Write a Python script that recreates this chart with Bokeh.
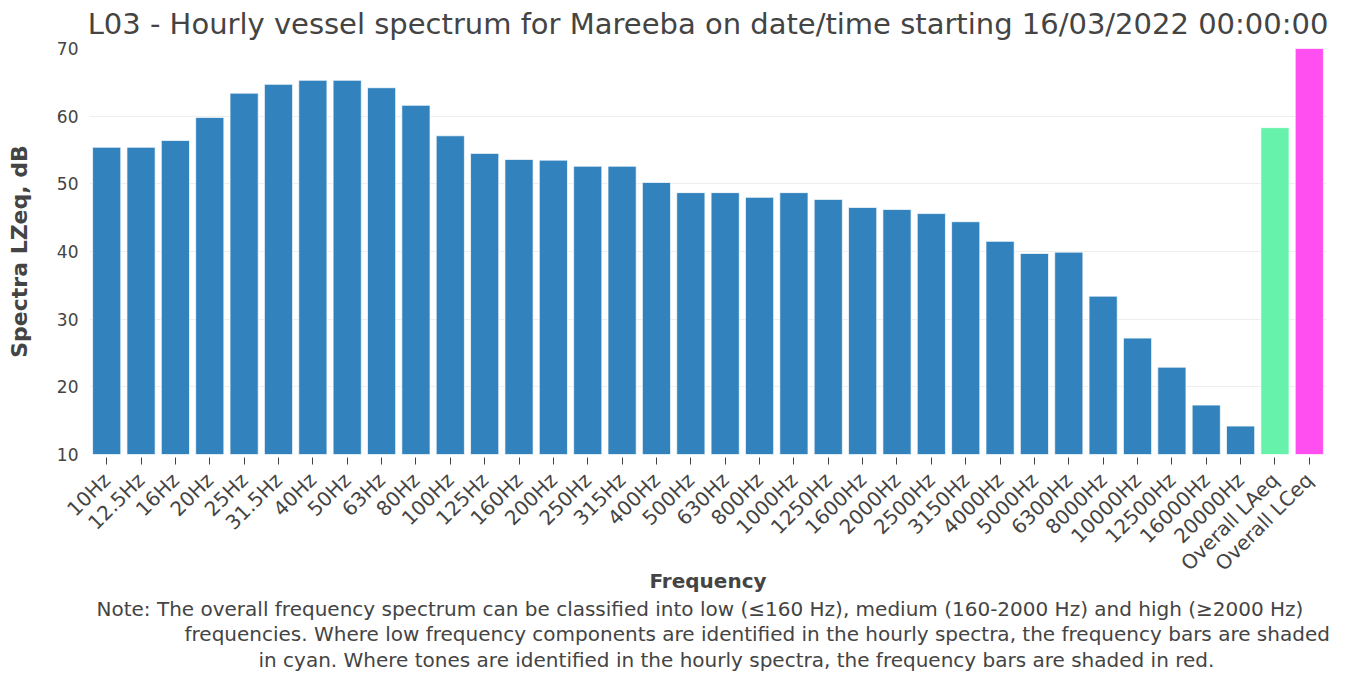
from bokeh.plotting import figure
from bokeh.models import Title, FixedTicker, ColumnDataSource
from bokeh.embed import file_html
from bokeh.resources import INLINE
import math

categories = ["10Hz", "12.5Hz", "16Hz", "20Hz", "25Hz", "31.5Hz", "40Hz", "50Hz", "63Hz", "80Hz",
              "100Hz", "125Hz", "160Hz", "200Hz", "250Hz", "315Hz", "400Hz", "500Hz", "630Hz", "800Hz",
              "1000Hz", "1250Hz", "1600Hz", "2000Hz", "2500Hz", "3150Hz", "4000Hz", "5000Hz", "6300Hz",
              "8000Hz", "10000Hz", "12500Hz", "16000Hz", "20000Hz", "Overall LAeq", "Overall LCeq"]
values = [55.4, 55.4, 56.4, 59.8, 63.4, 64.7, 65.3, 65.3, 64.2, 61.6,
          57.1, 54.5, 53.6, 53.5, 52.6, 52.6, 50.2, 48.7, 48.7, 48.0,
          48.7, 47.7, 46.5, 46.2, 45.6, 44.4, 41.5, 39.7, 39.9,
          33.4, 27.2, 22.9, 17.3, 14.2, 58.3, 70.0]
kinds = ["band"] * 34 + ["LAeq", "LCeq"]
palette = {"band": "#3182bd", "LAeq": "#66f2aa", "LCeq": "#ff4ff0"}
y_ticks = [10, 20, 30, 40, 50, 60, 70]
y_min, y_max = 10, 70

title_text = "L03 - Hourly vessel spectrum for Mareeba on date/time starting 16/03/2022 00:00:00"
note_lines = [
    "Note: The overall frequency spectrum can be classified into low (\u2264160 Hz), medium (160-2000 Hz) and high (\u22652000 Hz)",
    "frequencies. Where low frequency components are identified in the hourly spectra, the frequency bars are shaded",
    "in cyan. Where tones are identified in the hourly spectra, the frequency bars are shaded in red.",
]
note_offsets = [7, 95, 169]

src = ColumnDataSource(dict(cat=categories, val=values, color=[palette[k] for k in kinds]))

TXT = "#444444"
FONT = "DejaVu Sans"

p = figure(x_range=categories, y_range=(y_min, y_max), width=1336, height=672,
           output_backend="svg", toolbar_location=None,
           min_border_left=89, min_border_right=10, min_border_top=48, min_border_bottom=218)
p.title.text = title_text
p.title.align = "center"
p.title.vertical_align = "top"
p.title.text_font = FONT
p.title.text_font_size = "29px"
p.title.text_font_style = "normal"
p.title.text_color = TXT
p.title.standoff = 11

p.vbar(x="cat", top="val", bottom=0, width=0.82, source=src, fill_color="color",
       line_color="white", line_alpha=0.7, line_width=1)

p.outline_line_color = None
p.xgrid.grid_line_color = None
p.ygrid.grid_line_color = "#eeeeee"
p.ygrid.grid_line_width = 1

p.yaxis.ticker = FixedTicker(ticks=y_ticks)
p.yaxis.axis_line_color = None
p.yaxis.major_tick_line_color = None
p.yaxis.minor_tick_line_color = None
p.yaxis.major_label_standoff = 5
p.yaxis.major_label_text_font = FONT
p.yaxis.major_label_text_font_size = "17px"
p.yaxis.major_label_text_color = TXT
p.yaxis.axis_label = "Spectra LZeq, dB"
p.yaxis.axis_label_text_font = FONT
p.yaxis.axis_label_text_font_size = "22px"
p.yaxis.axis_label_text_font_style = "bold"
p.yaxis.axis_label_text_color = TXT
p.yaxis.axis_label_standoff = 22

p.xaxis.axis_line_color = None
p.xaxis.major_tick_line_color = TXT
p.xaxis.major_tick_in = -3
p.xaxis.major_tick_out = 10
p.xaxis.major_label_standoff = 12
p.xaxis.major_label_orientation = math.pi / 4
p.xaxis.major_label_text_font = FONT
p.xaxis.major_label_text_font_size = "20px"
p.xaxis.major_label_text_color = TXT
p.xaxis.axis_label = "Frequency"
p.xaxis.axis_label_text_font = FONT
p.xaxis.axis_label_text_font_size = "20px"
p.xaxis.axis_label_text_font_style = "bold"
p.xaxis.axis_label_text_color = TXT
p.xaxis.axis_label_standoff = -18

for i, (line, off) in enumerate(zip(note_lines, note_offsets)):
    t = Title(text=line, align="left", text_font=FONT, offset=off,
              text_font_size="20px", text_font_style="normal", text_color=TXT,
              standoff=-2 if i == 0 else 0)
    p.add_layout(t, "below")

open("out.html", "w").write(file_html(p, INLINE))
